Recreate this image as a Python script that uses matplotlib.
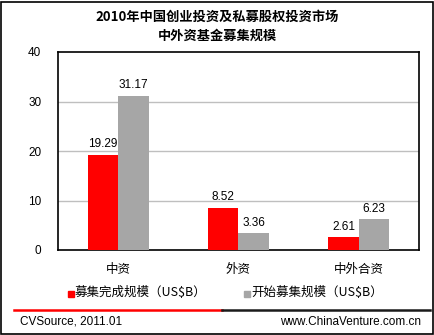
import matplotlib.pyplot as plt
from matplotlib.patches import Rectangle
from matplotlib.lines import Line2D
import numpy as np

plt.rcParams['font.family'] = ['Noto Sans CJK SC', 'DejaVu Sans']

# Data
categories = ["中资", "外资", "中外合资"]
completed = [19.29, 8.52, 2.61]
started = [31.17, 3.36, 6.23]
yticks = [0, 10, 20, 30, 40]

W, H = 435, 335
fig = plt.figure(figsize=(W / 100, H / 100), dpi=100)

ax = fig.add_axes([58 / W, 85 / H, 361 / W, 198 / H])
x = np.arange(len(categories))
bw = 0.254
b1 = ax.bar(x - bw / 2, completed, bw, color="#FF0000", zorder=3)
b2 = ax.bar(x + bw / 2, started, bw, color="#A6A6A6", zorder=3)

for bars, vals in ((b1, completed), (b2, started)):
    for rect, v in zip(bars, vals):
        ax.text(rect.get_x() + rect.get_width() / 2, v + 0.9, f"{v:.2f}",
                ha="center", va="bottom", fontsize=8.5,
                family="Liberation Sans")

ax.set_xlim(-0.5, 2.5)
ax.set_ylim(0, 40)
ax.set_yticks(yticks)
ax.set_yticklabels([str(t) for t in yticks], family="Liberation Sans", fontsize=8.5)
ax.tick_params(axis="y", length=0, pad=12)
ax.set_xticks(x)
ax.set_xticklabels(categories, fontsize=9)
ax.tick_params(axis="x", length=0, pad=9)
for t in [10, 20, 30]:
    ax.axhline(t, color="#BFBFBF", lw=1, zorder=1)
for s in ax.spines.values():
    s.set_color("black")
    s.set_linewidth(1.2)

# Title
fig.text(0.5, 1 - 17 / H, "2010年中国创业投资及私募股权投资市场", ha="center", va="center",
         fontsize=9.5, fontweight="bold")
fig.text(0.5, 1 - 36 / H, "中外资基金募集规模", ha="center", va="center",
         fontsize=9.5, fontweight="bold")

# Legend
fig.patches.append(Rectangle((68 / W, 1 - 297 / H), 6 / W, 6 / H, color="#FF0000",
                             transform=fig.transFigure))
fig.text(75 / W, 1 - 293 / H, "募集完成规模（US$B）", va="center", fontsize=9)
fig.patches.append(Rectangle((244 / W, 1 - 297 / H), 6 / W, 6 / H, color="#A6A6A6",
                             transform=fig.transFigure))
fig.text(251 / W, 1 - 293 / H, "开始募集规模（US$B）", va="center", fontsize=9)

# Footer
fig.lines.append(Line2D([14 / W, 222 / W], [1 - 310 / H] * 2, color="#FF0000", lw=1.8,
                        transform=fig.transFigure))
fig.lines.append(Line2D([222 / W, 430 / W], [1 - 310 / H] * 2, color="#1A1A1A", lw=1.8,
                        transform=fig.transFigure))
fig.text(20 / W, 1 - 322 / H, "CVSource, 2011.01", va="center", fontsize=8.5,
         family="Liberation Sans")
fig.text(421 / W, 1 - 322 / H, "www.ChinaVenture.com.cn", va="center", ha="right",
         fontsize=8.5, family="Liberation Sans")

# Outer frame
fig.patches.append(Rectangle((1 / W, 1 / H), (W - 3) / W, (H - 3) / H, fill=False,
                             edgecolor="black", lw=1.2, transform=fig.transFigure))

fig.savefig("out.png", dpi=100)
